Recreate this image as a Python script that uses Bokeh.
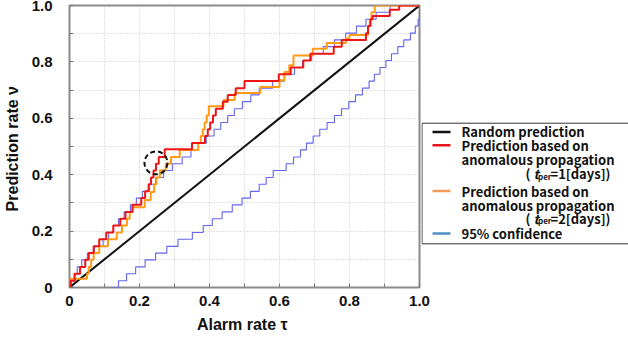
from bokeh.plotting import figure
from bokeh.models import Range1d, FixedTicker, ColumnDataSource
from bokeh.layouts import row
from bokeh.core.properties import value
from bokeh.embed import file_html
from bokeh.resources import INLINE

# ---- data -------------------------------------------------------------
random_x = [0.0, 1.0]
random_y = [0.0, 1.0]

# prediction based on anomalous propagation, t_per = 1 day (step corners)
red_x = [0.0, 0.003, 0.015, 0.03, 0.045, 0.055, 0.069, 0.085, 0.105, 0.125, 0.145,
         0.16, 0.18, 0.205, 0.216, 0.226, 0.233, 0.24, 0.247, 0.255, 0.272, 0.35,
         0.387, 0.395, 0.402, 0.41, 0.418, 0.438, 0.452, 0.475, 0.5, 0.598, 0.632,
         0.668, 0.688, 0.755, 0.778, 0.847, 0.853, 0.86, 0.866, 0.915, 0.942, 1.0]
red_y = [0.0, 0.024, 0.049, 0.073, 0.098, 0.122, 0.146, 0.171, 0.195, 0.22, 0.244,
         0.268, 0.293, 0.317, 0.341, 0.366, 0.39, 0.415, 0.439, 0.463, 0.49, 0.512,
         0.537, 0.561, 0.585, 0.61, 0.634, 0.659, 0.683, 0.707, 0.732, 0.756, 0.78,
         0.805, 0.829, 0.854, 0.878, 0.902, 0.927, 0.951, 0.963, 0.985, 1.0, 1.0]

# prediction based on anomalous propagation, t_per = 2 days
orange_x = [0.0, 0.002, 0.05, 0.055, 0.062, 0.069, 0.085, 0.11, 0.135, 0.15, 0.164,
            0.172, 0.18, 0.215, 0.232, 0.242, 0.248, 0.258, 0.275, 0.29, 0.315, 0.368,
            0.375, 0.381, 0.386, 0.392, 0.398, 0.44, 0.472, 0.545, 0.6, 0.614, 0.628,
            0.64, 0.695, 0.735, 0.79, 0.8, 0.853, 0.858, 0.863, 0.872, 1.0]
orange_y = [0.0, 0.031, 0.049, 0.073, 0.098, 0.122, 0.146, 0.171, 0.195, 0.22, 0.244,
            0.268, 0.285, 0.31, 0.339, 0.366, 0.39, 0.415, 0.439, 0.463, 0.488, 0.512,
            0.537, 0.561, 0.585, 0.61, 0.643, 0.665, 0.69, 0.711, 0.735, 0.764, 0.788,
            0.823, 0.847, 0.867, 0.883, 0.895, 0.927, 0.951, 0.976, 1.0, 1.0]

# 95% confidence band, upper and lower bounds
conf_hi_x = [0.0, 0.006, 0.013, 0.022, 0.035, 0.051, 0.071, 0.096, 0.112, 0.126, 0.14,
             0.156, 0.174, 0.191, 0.208, 0.228, 0.246, 0.269, 0.294, 0.322, 0.347, 0.368,
             0.391, 0.413, 0.432, 0.452, 0.471, 0.494, 0.518, 0.542, 0.58, 0.614, 0.643,
             0.666, 0.692, 0.725, 0.757, 0.789, 0.82, 0.847, 0.876, 0.916, 1.0]
conf_hi_y = [0.0, 0.024, 0.049, 0.073, 0.098, 0.122, 0.146, 0.171, 0.195, 0.22, 0.244,
             0.268, 0.293, 0.317, 0.341, 0.366, 0.39, 0.415, 0.439, 0.463, 0.488, 0.512,
             0.537, 0.561, 0.585, 0.61, 0.634, 0.659, 0.683, 0.707, 0.732, 0.756, 0.78,
             0.805, 0.829, 0.854, 0.878, 0.902, 0.927, 0.951, 0.976, 1.0, 1.0]
conf_lo_x = [0.117, 0.14, 0.163, 0.189, 0.216, 0.246, 0.278, 0.31, 0.351, 0.382, 0.408,
             0.436, 0.465, 0.493, 0.517, 0.542, 0.562, 0.582, 0.619, 0.64, 0.66, 0.677,
             0.696, 0.715, 0.736, 0.757, 0.777, 0.798, 0.817, 0.837, 0.856, 0.871, 0.887,
             0.904, 0.92, 0.938, 0.955, 0.974, 0.988, 0.996, 1.0]
conf_lo_y = [0.0, 0.024, 0.049, 0.073, 0.098, 0.122, 0.146, 0.171, 0.195, 0.22, 0.244,
             0.268, 0.293, 0.317, 0.341, 0.366, 0.39, 0.415, 0.439, 0.463, 0.488, 0.512,
             0.537, 0.561, 0.585, 0.61, 0.634, 0.659, 0.683, 0.707, 0.732, 0.756, 0.78,
             0.805, 0.829, 0.854, 0.878, 0.902, 0.927, 0.951, 0.976]

# highlighted point (dashed circle)
mark_x = [0.247]
mark_y = [0.442]

tick_values = [0.0, 0.2, 0.4, 0.6, 0.8, 1.0]
tick_labels = ["0", "0.2", "0.4", "0.6", "0.8", "1.0"]
minor_values = [0.1, 0.3, 0.5, 0.7, 0.9]

legend_colors = ["#111111", "#e8141c", "#f39a5c", "#4d8fc2"]
legend_lines = [
    ["Random prediction"],
    ["Prediction based on", "anomalous propagation"],
    ["Prediction based on", "anomalous propagation"],
    ["95% confidence"],
]
legend_periods = ["1", "2"]

FONT = "Noto Sans CJK JP"
AXIS_FONT = "Liberation Sans"
INK = "#111111"

# ---- main chart ------------------------------------------------------------
p = figure(width=440, height=339, output_backend="svg", toolbar_location=None,
           x_range=Range1d(0, 1), y_range=Range1d(0, 1),
           min_border_left=69, min_border_right=21,
           min_border_top=5, min_border_bottom=52)
p.background_fill_color = "white"
p.border_fill_color = "white"
p.outline_line_color = "#8a8a8a"
p.outline_line_width = 2

for ax in (p.xaxis[0], p.yaxis[0]):
    ax.ticker = FixedTicker(ticks=tick_values, minor_ticks=minor_values)
    ax.major_label_overrides = {v: s for v, s in zip(tick_values, tick_labels)}
    ax.axis_line_color = None
    ax.major_tick_in = 4
    ax.major_tick_out = 0
    ax.minor_tick_in = 4
    ax.minor_tick_out = 0
    ax.major_tick_line_color = "#777777"
    ax.minor_tick_line_color = "#777777"
    ax.major_label_text_font = AXIS_FONT
    ax.major_label_text_font_style = "bold"
    ax.major_label_text_font_size = "15px"
    ax.major_label_text_color = INK
    ax.axis_label_text_font = AXIS_FONT
    ax.axis_label_text_font_style = "bold"
    ax.axis_label_text_font_size = "16px"
    ax.axis_label_text_color = INK
p.xaxis.axis_label = "Alarm rate  τ"
p.yaxis.axis_label = "Prediction rate  ν"
p.yaxis.major_label_standoff = 17
p.yaxis.axis_label_standoff = 8
p.xaxis.major_label_standoff = 8
p.xaxis.axis_label_standoff = 7

for g in (p.xgrid[0], p.ygrid[0]):
    g.ticker = FixedTicker(ticks=tick_values, minor_ticks=minor_values)
    g.grid_line_color = "#c4c4c4"
    g.grid_line_dash = "1 2"
    g.grid_line_width = 1
    g.minor_grid_line_color = "#c4c4c4"
    g.minor_grid_line_dash = "1 2"
    g.minor_grid_line_width = 1

p.step(conf_lo_x, conf_lo_y, mode="after", line_color="#6464ee", line_width=1.1)
p.step(conf_hi_x, conf_hi_y, mode="after", line_color="#6464ee", line_width=1.1)
p.line(random_x, random_y, line_color=INK, line_width=2)
p.step(orange_x, orange_y, mode="after", line_color="#ff9a14", line_width=2)
p.step(red_x, red_y, mode="after", line_color="#ee1515", line_width=2)
p.scatter(mark_x, mark_y, marker="circle", size=23, fill_color=None,
          line_color=INK, line_width=2, line_dash="5 3")

# ---- legend panel (pixel coordinates, y measured from the top) -------------
LW, LH = 207, 339
lg = figure(width=LW, height=LH, output_backend="svg", toolbar_location=None,
            x_range=Range1d(0, LW), y_range=Range1d(LH, 0),
            min_border=0, x_axis_location=None, y_axis_location=None,
            margin=(0, 0, 0, -19))
lg.grid.visible = False
lg.outline_line_color = None
lg.background_fill_alpha = 0
lg.border_fill_alpha = 0

lg.quad(left=[0.5], right=[LW + 20], top=[141.5], bottom=[286.5],
        fill_color="white", line_color="#333333", line_width=1)

row_y = [152, 168, 223, 274]
seg = dict(x0=[], x1=[], y0=[], y1=[], c=[])
txt = dict(x=[], y=[], t=[])
for color, y, lines in zip(legend_colors, row_y, legend_lines):
    seg["x0"].append(11)
    seg["x1"].append(29)
    seg["y0"].append(y)
    seg["y1"].append(y)
    seg["c"].append(color)
    for i, line in enumerate(lines):
        txt["x"].append(40)
        txt["y"].append(y + 17 * i)
        txt["t"].append(line)
lg.segment("x0", "y0", "x1", "y1", line_color="c", line_width=2.5,
           source=ColumnDataSource(seg))
lg.text("x", "y", "t", source=ColumnDataSource(txt), text_font=value(FONT),
        text_font_style="bold", text_font_size="13px", text_color=INK,
        text_baseline="middle")

# "(t_per = n [days])" lines under the two propagation entries
per_y = [202, 256]
lg.text([104] * 2, per_y, ["("] * 2, text_font=value(FONT), text_font_style="bold",
        text_font_size="13px", text_color=INK, text_baseline="middle")
lg.text([112] * 2, per_y, ["t"] * 2, text_font=value(FONT),
        text_font_style="bold italic", text_font_size="13px", text_color=INK,
        text_baseline="middle")
lg.text([116.5] * 2, [v + 3 for v in per_y], ["per"] * 2, text_font=value(FONT),
        text_font_style="bold", text_font_size="8px", text_color=INK,
        text_baseline="middle")
lg.text([189] * 2, per_y, ["=" + n + "[days])" for n in legend_periods],
        text_font=value(FONT), text_font_style="bold", text_font_size="13px",
        text_color=INK, text_align="right", text_baseline="middle")

layout = row(p, lg, spacing=0)
open("out.html", "w").write(file_html(layout, INLINE))
